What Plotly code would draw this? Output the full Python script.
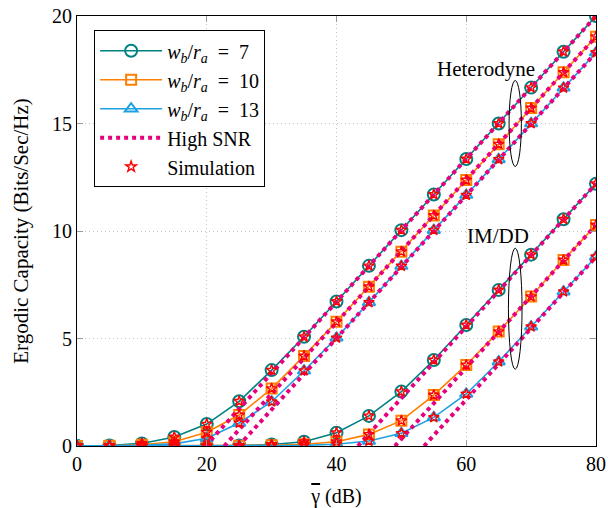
import plotly.graph_objects as go

# SNR grid (dB)
snr_db = [0, 5, 10, 15, 20, 25, 30, 35, 40, 45, 50, 55, 60, 65, 70, 75, 80]

# Heterodyne detection, ergodic capacity (bits/s/Hz)
het_w7 = [0.0, 0.02, 0.12, 0.42, 1.02, 2.08, 3.53, 5.08, 6.72, 8.38, 10.04, 11.70, 13.35, 15.00, 16.67, 18.34, 20.0]
het_w10 = [0.0, 0.01, 0.06, 0.20, 0.64, 1.44, 2.67, 4.19, 5.78, 7.41, 9.04, 10.72, 12.37, 14.04, 15.72, 17.38, 19.04]
het_w13 = [0.0, 0.0, 0.03, 0.10, 0.36, 1.07, 2.06, 3.50, 5.03, 6.68, 8.37, 10.04, 11.67, 13.33, 15.00, 16.66, 18.30]

# IM/DD detection, ergodic capacity (bits/s/Hz)
imdd_w7 = [0.0, 0.0, 0.0, 0.0, 0.01, 0.02, 0.07, 0.20, 0.62, 1.40, 2.53, 4.00, 5.63, 7.26, 8.90, 10.55, 12.20]
imdd_w10 = [0.0, 0.0, 0.0, 0.0, 0.0, 0.01, 0.03, 0.08, 0.20, 0.54, 1.18, 2.37, 3.77, 5.32, 6.95, 8.65, 10.28]
imdd_w13 = [0.0, 0.0, 0.0, 0.0, 0.0, 0.0, 0.01, 0.03, 0.08, 0.23, 0.59, 1.33, 2.42, 3.92, 5.55, 7.18, 8.80]

# High-SNR asymptotes: (start dB, capacity) -> (80 dB, capacity)
hs_het_x = [[19.8, 80], [22.7, 80], [24.9, 80]]
hs_het_y = [[0.0, 20.0], [0.0, 19.04], [0.0, 18.30]]
hs_imdd_x = [[43.3, 80], [49.0, 80], [53.5, 80]]
hs_imdd_y = [[0.0, 12.20], [0.0, 10.28], [0.0, 8.80]]

ratio_labels = ["7", "10", "13"]
x_ticks = [0, 20, 40, 60, 80]
y_ticks = [0, 5, 10, 15, 20]

TEAL = "#008080"
ORANGE = "#FF7F00"
BLUE = "#1DA1E2"
PINK = "#E6007E"
RED = "#FF0000"
FONT = "Liberation Serif, Times New Roman, serif"

colors = [TEAL, ORANGE, BLUE]
symbols = ["circle-open", "square-open", "triangle-up-open"]
sizes = [12, 10, 11]

fig = go.Figure()

het = [het_w7, het_w10, het_w13]
imdd = [imdd_w7, imdd_w10, imdd_w13]

# Analytical curves
for i in range(3):
    for j, series in enumerate((het[i], imdd[i])):
        fig.add_trace(go.Scatter(
            x=snr_db, y=series, mode="lines+markers",
            line=dict(color=colors[i], width=1.6),
            marker=dict(symbol=symbols[i], size=sizes[i], color=colors[i],
                        line=dict(width=2, color=colors[i])),
            name=(f"<i>w</i><sub><i>b</i></sub>/<i>r</i><sub><i>a</i></sub>"
                  f"\u2002=\u2002{ratio_labels[i]}"),
            legendgroup=f"w{i}", showlegend=(j == 0),
        ))

# High-SNR asymptotes
first = True
for xs, ys in zip(hs_het_x + hs_imdd_x, hs_het_y + hs_imdd_y):
    fig.add_trace(go.Scatter(
        x=xs, y=ys, mode="lines",
        line=dict(color=PINK, width=4, dash="dot"),
        name="High SNR", legendgroup="hs", showlegend=first,
    ))
    first = False

# Monte-Carlo simulation points
first = True
for series in het + imdd:
    fig.add_trace(go.Scatter(
        x=snr_db, y=series, mode="markers",
        marker=dict(symbol="star-open", size=8, color=RED, line=dict(width=1.4, color=RED)),
        name="Simulation", legendgroup="sim", showlegend=first,
    ))
    first = False

axis_common = dict(
    showline=True, linecolor="black", linewidth=1.2, mirror="ticks",
    ticks="inside", ticklen=6, tickcolor="#9a9a9a", tickwidth=1,
    showgrid=True, gridcolor="#c4c4c4", griddash="1px,3px", gridwidth=1,
    zeroline=False, automargin=False,
    tickfont=dict(family=FONT, size=20, color="black"),
)

fig.update_xaxes(range=[0, 80], tickvals=x_ticks, ticktext=[str(v) for v in x_ticks],
                 title=dict(text="<span style='text-decoration:overline'>γ</span> (dB)",
                            font=dict(family=FONT, size=20, color="black"), standoff=20),
                 **axis_common)
fig.update_yaxes(range=[0, 20], tickvals=y_ticks, ticktext=[str(v) for v in y_ticks],
                 title=dict(text="Ergodic Capacity (Bits/Sec/Hz)",
                            font=dict(family=FONT, size=21, color="black"), standoff=17),
                 **axis_common)

# Group labels with ellipses
fig.add_shape(type="circle", xref="x", yref="y", x0=66.6, x1=68.5, y0=13.0, y1=17.0,
              line=dict(color="black", width=1))
fig.add_shape(type="circle", xref="x", yref="y", x0=66.5, x1=68.6, y0=3.57, y1=9.2,
              line=dict(color="black", width=1))
fig.add_annotation(x=63.0, y=17.53, xref="x", yref="y", text="Heterodyne", showarrow=False,
                   font=dict(family=FONT, size=21, color="black"))
fig.add_annotation(x=64.9, y=9.77, xref="x", yref="y", text="IM/DD", showarrow=False,
                   font=dict(family=FONT, size=21, color="black"))

fig.update_layout(
    width=608, height=508, autosize=False,
    margin=dict(l=77, r=12, t=16, b=62, autoexpand=False),
    paper_bgcolor="white", plot_bgcolor="white",
    font=dict(family=FONT, size=20, color="black"),
    legend=dict(x=0.033, y=0.967, xanchor="left", yanchor="top",
                bgcolor="white", bordercolor="black", borderwidth=1,
                font=dict(family=FONT, size=20, color="black"),
                tracegroupgap=0, itemwidth=62),
)

fig.write_html("out.html")
